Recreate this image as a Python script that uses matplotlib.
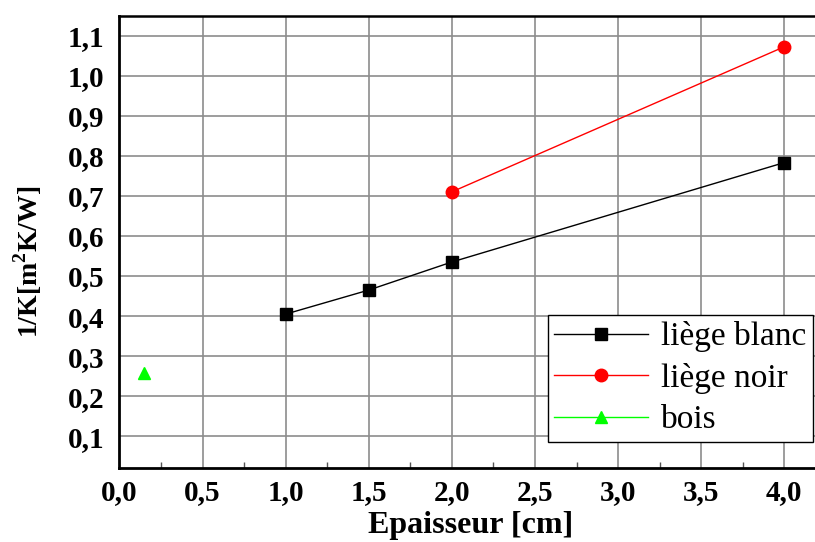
import matplotlib
matplotlib.use("Agg")
import matplotlib.pyplot as plt
from matplotlib.ticker import MultipleLocator, FuncFormatter

plt.rcParams['font.family'] = ['Liberation Serif', 'DejaVu Serif']
plt.rcParams['mathtext.fontset'] = 'custom'
plt.rcParams['mathtext.rm'] = 'Liberation Serif:bold'
plt.rcParams['mathtext.bf'] = 'Liberation Serif:bold'

# Épaisseur (cm) et résistance thermique 1/K
blanc_x = [1.0, 1.5, 2.0, 4.0]
blanc_y = [0.405, 0.465, 0.535, 0.783]
noir_x = [2.0, 4.0]
noir_y = [0.71, 1.072]
bois_x = [0.15]
bois_y = [0.257]

fig = plt.figure(figsize=(8.15, 5.42), dpi=100)
W, H = 815, 542
left, right, top, bottom = 119.5, 817.5, 15.5, 468
ax = fig.add_axes([left / W, 1 - bottom / H, (right - left) / W, (bottom - top) / H])

ax.plot(blanc_x, blanc_y, color='black', lw=1, marker='s', ms=8, label='liège blanc', zorder=3)
ax.plot(noir_x, noir_y, color='red', lw=1, marker='o', ms=9, label='liège noir', zorder=3)
ax.plot(bois_x, bois_y, color='#00ff00', lw=1, marker='^', ms=9, label='bois', zorder=3)

ax.set_xlim(0, 4.2)
ax.set_ylim(0.021, 1.15)
ax.xaxis.set_major_locator(MultipleLocator(0.5))
ax.xaxis.set_minor_locator(MultipleLocator(0.25))
ax.set_yticks([0.1 * i for i in range(1, 12)])

fmt = FuncFormatter(lambda v, p: f"{v:.1f}".replace('.', ','))
ax.xaxis.set_major_formatter(fmt)
ax.yaxis.set_major_formatter(fmt)

ax.grid(True, which='major', color='#8c8c8c', lw=1.2)
ax.set_axisbelow(True)

for lab in ax.get_xticklabels() + ax.get_yticklabels():
    lab.set_fontweight('bold')
    lab.set_fontsize(21)
ax.tick_params(axis='y', which='major', direction='in', length=0, pad=11)
ax.tick_params(axis='x', which='major', direction='in', length=0, pad=8)
ax.tick_params(axis='x', which='minor', direction='in', length=4, width=1, color='#555555')

ax.spines['right'].set_visible(False)
ax.spines['left'].set_linewidth(2)
ax.spines['bottom'].set_linewidth(2)
ax.spines['top'].set_linewidth(1.8)

# Axis titles placed in figure pixels
fig.text(471 / W, 1 - 526 / H, 'Epaisseur [cm]', fontsize=23, fontweight='bold',
         ha='center', va='center')
fig.text(28 / W, 1 - 262 / H, r'1/K[m$^{\mathbf{2}}$K/W]', fontsize=20, fontweight='bold',
         ha='center', va='center', rotation=90)

leg = ax.legend(loc='lower right', bbox_to_anchor=((813 - left) / (right - left), (468 - 442) / (bottom - top)),
                fontsize=24, frameon=True, fancybox=False, framealpha=1,
                edgecolor='black', handlelength=2.8, handletextpad=0.4,
                borderpad=0.2, labelspacing=0.32, borderaxespad=0)
leg.get_frame().set_linewidth(1)

fig.savefig('out.png', dpi=100)
